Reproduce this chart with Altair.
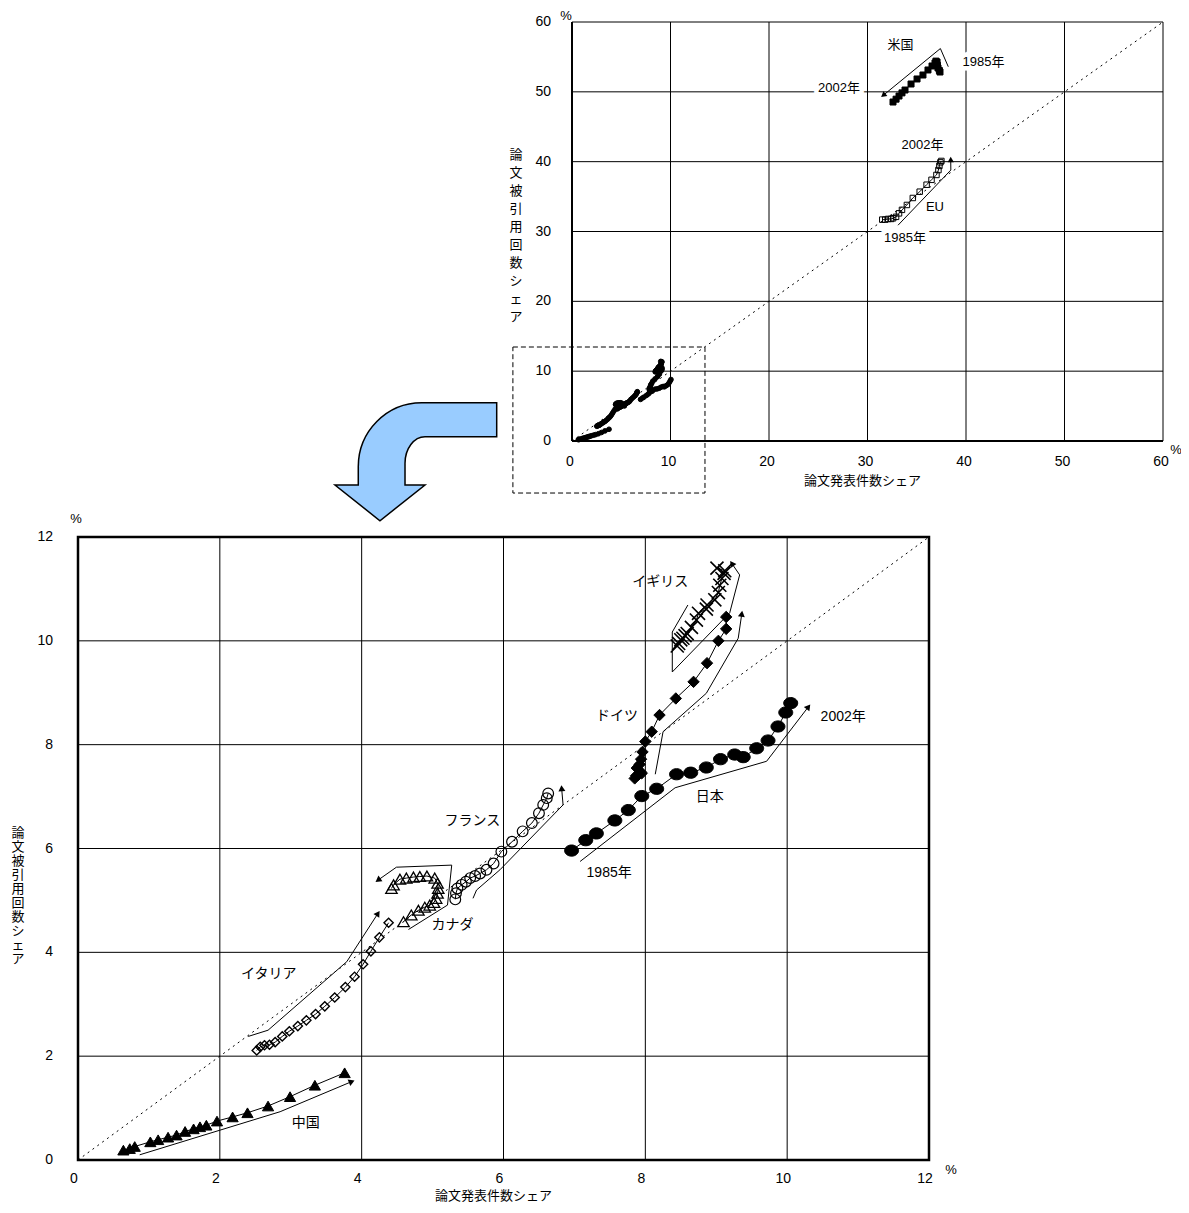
import math
import altair as alt
import pandas as pd

FONT = "Liberation Sans, Noto Sans CJK JP, sans-serif"

# ---------------- bottom panel data (paper share %, citation share %) ----------------
JAPAN_X = [6.96, 7.16, 7.31, 7.57, 7.76, 7.95, 8.16, 8.44, 8.64, 8.86, 9.06, 9.26, 9.38, 9.57, 9.73, 9.87, 9.98, 10.05]
JAPAN_Y = [5.96, 6.16, 6.29, 6.54, 6.74, 7.01, 7.15, 7.43, 7.46, 7.56, 7.72, 7.81, 7.76, 7.93, 8.08, 8.35, 8.62, 8.80]

GER_X = [7.90, 7.85, 7.93, 7.88, 7.95, 7.87, 7.92, 7.94, 7.96, 8.00, 8.09, 8.20, 8.43, 8.68, 8.87, 9.03, 9.14, 9.14]
GER_Y = [7.42, 7.35, 7.48, 7.55, 7.45, 7.40, 7.62, 7.72, 7.86, 8.06, 8.25, 8.57, 8.89, 9.21, 9.57, 10.00, 10.23, 10.46]

UK_X = [8.45, 8.47, 8.50, 8.53, 8.56, 8.59, 8.65, 8.72, 8.75, 8.86, 8.87, 8.98, 9.03, 9.05, 9.08, 9.11, 9.12, 9.01]
UK_Y = [9.90, 9.95, 10.02, 10.05, 10.10, 10.14, 10.26, 10.40, 10.53, 10.61, 10.69, 10.79, 10.93, 11.07, 11.20, 11.30, 11.35, 11.40]

FRA_X = [5.32, 5.33, 5.35, 5.41, 5.47, 5.53, 5.60, 5.67, 5.76, 5.86, 5.97, 6.12, 6.27, 6.40, 6.50, 6.56, 6.61, 6.63]
FRA_Y = [5.02, 5.14, 5.23, 5.30, 5.36, 5.43, 5.47, 5.52, 5.59, 5.71, 5.94, 6.13, 6.33, 6.49, 6.68, 6.84, 6.97, 7.06]

CAN_X = [4.59, 4.70, 4.80, 4.89, 4.96, 5.02, 5.05, 5.07, 5.08, 5.07, 5.03, 4.92, 4.82, 4.73, 4.63, 4.54, 4.45, 4.42]
CAN_Y = [4.59, 4.72, 4.81, 4.87, 4.91, 4.96, 5.04, 5.14, 5.23, 5.33, 5.43, 5.47, 5.46, 5.45, 5.43, 5.41, 5.30, 5.23]

ITA_X = [2.52, 2.57, 2.63, 2.70, 2.78, 2.88, 2.98, 3.10, 3.22, 3.35, 3.48, 3.62, 3.77, 3.90, 4.02, 4.13, 4.25, 4.38]
ITA_Y = [2.11, 2.18, 2.21, 2.22, 2.27, 2.38, 2.48, 2.58, 2.69, 2.81, 2.96, 3.13, 3.33, 3.53, 3.77, 4.02, 4.29, 4.57]

CHN_X = [0.64, 0.73, 0.80, 1.02, 1.13, 1.27, 1.39, 1.51, 1.63, 1.72, 1.81, 1.96, 2.18, 2.39, 2.68, 2.99, 3.34, 3.76]
CHN_Y = [0.19, 0.22, 0.26, 0.35, 0.39, 0.44, 0.48, 0.55, 0.60, 0.64, 0.67, 0.75, 0.83, 0.91, 1.04, 1.22, 1.44, 1.68]

# ---------------- top panel data ----------------
US_X = [37.36, 37.30, 37.16, 37.10, 37.06, 36.95, 36.85, 36.55, 36.14, 35.63, 35.03, 34.42, 33.81, 33.50, 33.20, 32.90, 32.59]
US_Y = [52.84, 53.05, 53.41, 53.80, 54.27, 54.40, 54.13, 53.70, 53.13, 52.41, 51.84, 51.12, 50.26, 49.85, 49.40, 48.95, 48.54]

EU_X = [31.5, 31.8, 32.1, 32.4, 32.6, 32.9, 33.2, 33.5, 34.0, 34.6, 35.3, 36.0, 36.5, 37.0, 37.2, 37.3, 37.4, 37.5]
EU_Y = [31.7, 31.7, 31.8, 31.8, 31.9, 32.1, 32.6, 33.1, 33.8, 34.8, 35.7, 36.7, 37.4, 38.1, 38.8, 39.4, 39.9, 40.1]

# ---------------- annotation guide arrows (chart coordinates) ----------------
JP_ANN = [(7.08, 5.75), (8.42, 7.17), (9.71, 7.68), (10.30, 8.73)]
GER_ANN = [(8.14, 7.43), (8.25, 8.25), (8.86, 8.99), (9.31, 10.05), (9.36, 10.52)]
UK_ANN = [(8.60, 10.69), (8.38, 10.17), (8.38, 9.40), (9.19, 10.54), (9.33, 11.27), (9.22, 11.49)]
FRA_ANN = [(5.57, 5.04), (5.62, 5.20), (5.95, 5.59), (6.84, 6.84), (6.82, 7.16)]
CAN_ANN = [(4.66, 4.44), (5.21, 4.91), (5.27, 5.68), (4.49, 5.64), (4.23, 5.39)]
ITA_ANN = [(2.40, 2.38), (2.68, 2.50), (3.79, 3.82), (4.23, 4.75)]
CHN_ANN = [(0.87, 0.10), (2.85, 0.93), (3.86, 1.51)]
US_ANN = [(38.2, 53.6), (37.4, 56.2), (31.6, 49.5)]
EU_ANN = [(33.1, 30.9), (38.46, 38.8), (38.45, 40.3)]

# ---------------- labels ----------------
B_LABELS = ["イギリス", "ドイツ", "日本", "2002年", "1985年", "フランス", "カナダ", "イタリア", "中国"]
B_LABEL_X = [8.21, 7.60, 8.91, 10.79, 7.49, 5.56, 5.28, 2.69, 3.21]
B_LABEL_Y = [11.13, 8.55, 6.99, 8.54, 5.53, 6.53, 4.53, 3.58, 0.72]

T_LABELS = ["米国", "2002年", "EU"]
T_LABEL_X = [33.35, 35.58, 36.85]
T_LABEL_Y = [56.7, 42.4, 33.5]
T_BOXED = ["2002年", "1985年", "1985年"]
T_BOXED_X = [27.1, 33.8, 41.78]
T_BOXED_Y = [50.55, 29.07, 54.3]

B_TICKS = [0, 2, 4, 6, 8, 10, 12]
T_TICKS = [0, 10, 20, 30, 40, 50, 60]
X_TITLE = "論文発表件数シェア"
Y_TITLE = "論文被引用回数シェア"

# zoom frame (top panel coords) and big blue arrow anchor (bottom panel coords)
ZOOM_BOX = [(-6.0, -7.45), (13.5, 13.46)]
BLUE_ARROW_AT = [(4.764, 13.45)]

# ---------------- layout ----------------
W, H = 1173, 1197
B_XR = [70, 921]
B_YR = [1152, 529]
T_XR = [564, 1155]
T_YR = [433, 14]
B_KX = (B_XR[1] - B_XR[0]) / 12
B_KY = (B_YR[0] - B_YR[1]) / 12
T_KX = (T_XR[1] - T_XR[0]) / 60
T_KY = (T_YR[0] - T_YR[1]) / 60


def BX(f):
    return alt.X(f"{f}:Q", scale=alt.Scale(domain=[0, 12], range=B_XR, nice=False, zero=False), axis=None)


def BY(f):
    return alt.Y(f"{f}:Q", scale=alt.Scale(domain=[0, 12], range=B_YR, nice=False, zero=False), axis=None)


def TX(f):
    return alt.X(f"{f}:Q", scale=alt.Scale(domain=[0, 60], range=T_XR, nice=False, zero=False), axis=None)


def TY(f):
    return alt.Y(f"{f}:Q", scale=alt.Scale(domain=[0, 60], range=T_YR, nice=False, zero=False), axis=None)


def grid_layers(ticks, X, Y):
    lo, hi = ticks[0], ticks[-1]
    inner = ticks[1:-1]
    v = pd.DataFrame({"x": inner, "y": [lo] * len(inner), "y2": [hi] * len(inner)})
    h = pd.DataFrame({"y": inner, "x": [lo] * len(inner), "x2": [hi] * len(inner)})
    return [
        alt.Chart(v).mark_rule(color="black", strokeWidth=1).encode(x=X("x"), y=Y("y"), y2=alt.Y2("y2")),
        alt.Chart(h).mark_rule(color="black", strokeWidth=1).encode(y=Y("y"), x=X("x"), x2=alt.X2("x2")),
    ]


def diag_layer(hi, X, Y):
    df = pd.DataFrame({"x": [0, hi], "y": [0, hi]})
    return alt.Chart(df).mark_line(color="black", strokeWidth=1, strokeDash=[2, 4]).encode(x=X("x"), y=Y("y"))


def series(xs, ys, X, Y, shape, size, filled, line_w=1.0, sw=1.0):
    df = pd.DataFrame({"x": xs, "y": ys, "i": list(range(len(xs)))})
    line = alt.Chart(df).mark_line(color="black", strokeWidth=line_w).encode(x=X("x"), y=Y("y"), order="i:Q")
    kw = dict(shape=shape, size=size, opacity=1, strokeWidth=sw, stroke="black")
    if filled:
        kw.update(filled=True, fill="black")
    else:
        kw.update(filled=False)
    pts = alt.Chart(df).mark_point(**kw).encode(x=X("x"), y=Y("y"))
    return [line, pts]


def ann(path, X, Y, kx, ky, head=48):
    df = pd.DataFrame({"x": [p[0] for p in path], "y": [p[1] for p in path], "i": list(range(len(path)))})
    line = alt.Chart(df).mark_line(color="black", strokeWidth=1).encode(x=X("x"), y=Y("y"), order="i:Q")
    (x0, y0), (x1, y1) = path[-2], path[-1]
    ang = math.degrees(math.atan2((x1 - x0) * kx, (y1 - y0) * ky)) % 360
    hd = pd.DataFrame({"x": [x1], "y": [y1], "a": [ang]})
    tip = alt.Chart(hd).mark_point(shape="triangle-up", size=head, filled=True, fill="black",
                                   opacity=1, strokeWidth=0).encode(
        x=X("x"), y=Y("y"), angle=alt.Angle("a:Q", scale=None))
    return [line, tip]


def text_layer(ts, xs, ys, X, Y, **kw):
    df = pd.DataFrame({"t": ts, "x": xs, "y": ys})
    opts = dict(font=FONT, fontSize=13, color="black")
    opts.update(kw)
    return alt.Chart(df).mark_text(**opts).encode(x=X("x"), y=Y("y"), text="t:N")


ELLIPSE = "M-1,0A1,0.8 0 1,1 1,0A1,0.8 0 1,1 -1,0Z"
XMARK = "M-1,-1L1,1M-1,1L1,-1"
BIG_ARROW = ("M1,-0.73 L1,-0.309 L0.113,-0.309 A0.247,0.329 0 0 0 -0.134,0.02 L-0.134,0.288 "
             "L0.113,0.288 L-0.444,0.73 L-1,0.288 L-0.712,0.288 L-0.712,0.062 "
             "A0.784,0.792 0 0 1 0.072,-0.73 Z")

# ================= bottom panel =================
bl = []
bl += grid_layers(B_TICKS, BX, BY)
bl.append(diag_layer(12, BX, BY))
frame_b = pd.DataFrame({"x": [0], "x2": [12], "y": [0], "y2": [12]})
bl.append(alt.Chart(frame_b).mark_rect(fillOpacity=0, stroke="black", strokeWidth=2.5).encode(
    x=BX("x"), x2=alt.X2("x2"), y=BY("y"), y2=alt.Y2("y2")))

bl += series(CHN_X, CHN_Y, BX, BY, "triangle-up", 125, True)
bl += series(ITA_X, ITA_Y, BX, BY, "diamond", 85, False, sw=1.4)
bl += series(CAN_X, CAN_Y, BX, BY, "triangle-up", 130, False, sw=1.3)
bl += series(FRA_X, FRA_Y, BX, BY, "circle", 115, False, sw=1.2)
bl += series(JAPAN_X, JAPAN_Y, BX, BY, ELLIPSE, 196, True)
bl += series(GER_X, GER_Y, BX, BY, "diamond", 130, True)
bl += series(UK_X, UK_Y, BX, BY, XMARK, 170, False, sw=1.6)

for p in [JP_ANN, GER_ANN, UK_ANN, FRA_ANN, CAN_ANN, ITA_ANN, CHN_ANN]:
    bl += ann(p, BX, BY, B_KX, B_KY)

bl.append(text_layer(B_LABELS, B_LABEL_X, B_LABEL_Y, BX, BY, fontSize=14, baseline="middle"))

# ticks & titles
bl.append(text_layer([str(t) for t in B_TICKS], B_TICKS, [0] * len(B_TICKS), BX, BY,
                     align="center", baseline="middle", dx=-4, dy=19, fontSize=14))
bl.append(text_layer([str(t) for t in B_TICKS], [0] * len(B_TICKS), B_TICKS, BX, BY,
                     align="right", baseline="middle", dx=-25, fontSize=14))
bl.append(text_layer(["%"], [12], [0], BX, BY, align="center", baseline="middle", dx=22, dy=10))
bl.append(text_layer(["%"], [0], [12], BX, BY, align="center", baseline="middle", dx=-2, dy=-18))
bl.append(text_layer([X_TITLE], [6], [0], BX, BY, align="center", baseline="middle", dx=-10, dy=36))
bl.append(text_layer(["\n".join(Y_TITLE)], [0], [6.3], BX, BY, align="center", baseline="middle",
                     dx=-60, lineBreak="\n", lineHeight=14))

# big blue arrow
ba = pd.DataFrame({"x": [p[0] for p in BLUE_ARROW_AT], "y": [p[1] for p in BLUE_ARROW_AT]})
bl.append(alt.Chart(ba).mark_point(shape=BIG_ARROW, size=26150, filled=True, fill="#99CCFF",
                                   stroke="black", strokeWidth=1.5, opacity=1).encode(x=BX("x"), y=BY("y")))

bottom = alt.layer(*bl)

# ================= top panel =================
tl = []
tl += grid_layers(T_TICKS, TX, TY)
tl.append(diag_layer(60, TX, TY))
frame_t = pd.DataFrame({"x": [0], "x2": [60], "y": [0], "y2": [60]})
tl.append(alt.Chart(frame_t).mark_rect(fillOpacity=0, stroke="black", strokeWidth=1).encode(
    x=TX("x"), x2=alt.X2("x2"), y=TY("y"), y2=alt.Y2("y2")))
axl = pd.DataFrame({"x": [0, 0], "y": [0, 0], "x2": [0, 60], "y2": [60, 0]})
tl.append(alt.Chart(axl).mark_rule(color="black", strokeWidth=2).encode(
    x=TX("x"), y=TY("y"), x2=alt.X2("x2"), y2=alt.Y2("y2")))

for xs, ys in [(CHN_X, CHN_Y), (ITA_X, ITA_Y), (CAN_X, CAN_Y), (FRA_X, FRA_Y),
               (JAPAN_X, JAPAN_Y), (GER_X, GER_Y), (UK_X, UK_Y)]:
    tl += series(xs, ys, TX, TY, "circle", 22, True, line_w=3.5)

tl += series(US_X, US_Y, TX, TY, "square", 36, True)
tl += series(EU_X, EU_Y, TX, TY, "square", 30, False)
tl += ann(US_ANN, TX, TY, T_KX, T_KY, head=40)
tl += ann(EU_ANN, TX, TY, T_KX, T_KY, head=40)

zb = pd.DataFrame({"x": [ZOOM_BOX[0][0]], "y": [ZOOM_BOX[0][1]], "x2": [ZOOM_BOX[1][0]], "y2": [ZOOM_BOX[1][1]]})
tl.append(alt.Chart(zb).mark_rect(fillOpacity=0, stroke="black", strokeWidth=1, strokeDash=[5, 3]).encode(
    x=TX("x"), x2=alt.X2("x2"), y=TY("y"), y2=alt.Y2("y2")))

tl.append(text_layer(T_BOXED, T_BOXED_X, T_BOXED_Y, TX, TY, stroke="white", strokeWidth=9, baseline="middle"))
tl.append(text_layer(T_BOXED, T_BOXED_X, T_BOXED_Y, TX, TY, baseline="middle"))
tl.append(text_layer(T_LABELS, T_LABEL_X, T_LABEL_Y, TX, TY, baseline="middle"))

tl.append(text_layer([str(t) for t in T_TICKS], T_TICKS, [0] * len(T_TICKS), TX, TY,
                     align="center", baseline="middle", dx=-2, dy=21, fontSize=14))
tl.append(text_layer([str(t) for t in T_TICKS], [0] * len(T_TICKS), T_TICKS, TX, TY,
                     align="right", baseline="middle", dx=-21, fontSize=14))
tl.append(text_layer(["%"], [60], [0], TX, TY, align="center", baseline="middle", dx=13, dy=9))
tl.append(text_layer(["%"], [0], [60], TX, TY, align="center", baseline="middle", dx=-6, dy=-6))
tl.append(text_layer([X_TITLE], [30], [0], TX, TY, align="center", baseline="middle", dx=-5, dy=40))
tl.append(text_layer(["\n".join(Y_TITLE)], [0], [41], TX, TY, align="center", baseline="middle",
                     dx=-56, lineBreak="\n", lineHeight=18))

top = alt.layer(*tl)

chart = alt.layer(bottom, top).resolve_scale(x="independent", y="independent").properties(
    width=W, height=H, autosize="none", padding=0
).configure_view(stroke=None)

chart.save("out.html", embed_options={"renderer": "svg", "actions": False})
